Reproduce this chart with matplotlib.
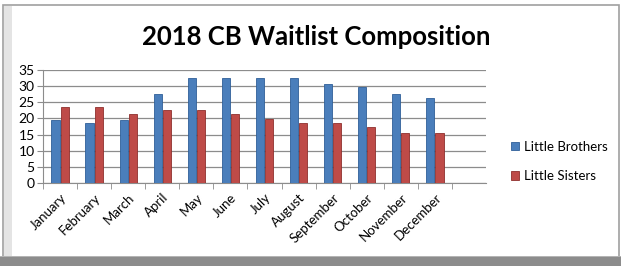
import numpy as np
import matplotlib
matplotlib.use("Agg")
import matplotlib.pyplot as plt
import matplotlib.patches as mpatches
import matplotlib.transforms as mtransforms

plt.rcParams['font.family'] = ['Lato', 'DejaVu Sans']

months = ["January", "February", "March", "April", "May", "June", "July",
          "August", "September", "October", "November", "December"]
brothers = [19.5, 18.6, 19.5, 27.6, 32.5, 32.5, 32.5, 32.5, 30.6, 29.8, 27.7, 26.4]
sisters = [23.6, 23.6, 21.5, 22.5, 22.5, 21.5, 19.7, 18.6, 18.6, 17.5, 15.4, 15.4]

blue = "#4a7ebb"
red = "#be4b48"

fig = plt.figure(figsize=(6.21, 2.66), dpi=100)

# frame of the chart box: grey shadow left and bottom, thin border
frame = [
    mpatches.Rectangle((3/621, 0), 616/621, 261/266, fc="white", ec="#a0a0a0", lw=1.2),
    mpatches.Rectangle((4/621, 10/266), 8/621, 250/266, fc="#e4e4e4", ec="none"),
    mpatches.Rectangle((0, 0), 1, 9/266, fc="#8c8c8c", ec="none"),
    mpatches.Rectangle((0, 9/266), 1, 1.5/266, fc="#b4b4b4", ec="none"),
]
for p in frame:
    p.set_transform(fig.transFigure)
    p.set_zorder(-10)
    fig.patches.append(p)

ax = fig.add_axes([43/621, 1 - 183/266, 443/621, 113/266])
ax.set_zorder(1)
ax.patch.set_alpha(0)

x = np.arange(len(months))
w = 0.24
ax.bar(x - 0.135, brothers, w, color=blue, edgecolor="#2f5f99", lw=0.6, label="Little Brothers", zorder=3)
ax.bar(x + 0.135, sisters, w, color=red, edgecolor="#8f2f2d", lw=0.6, label="Little Sisters", zorder=3)

ax.set_xlim(-0.5, len(months) + 0.5)
ax.set_ylim(0, 35)
ax.set_yticks(range(0, 36, 5))
ax.yaxis.grid(True, color="#8c8c8c", lw=0.9)
ax.set_axisbelow(True)
ax.set_xticks(np.arange(-0.5, len(months) + 0.5, 1), minor=True)
ax.set_xticks(x)
ax.set_xticklabels(months, rotation=45, ha="right", rotation_mode="anchor", fontsize=9.5)
shift = mtransforms.ScaledTranslation(6/100, -3/100, fig.dpi_scale_trans)
for lab in ax.get_xticklabels():
    lab.set_transform(lab.get_transform() + shift)
ax.tick_params(axis="x", which="major", length=0, pad=6)
ax.tick_params(axis="x", which="minor", length=4, color="#8c8c8c")
ax.tick_params(axis="y", length=4, color="#8c8c8c", labelsize=10, pad=2)
for s in ["top", "right"]:
    ax.spines[s].set_visible(False)
ax.spines["left"].set_color("#8c8c8c")
ax.spines["bottom"].set_color("#8c8c8c")

fig.text(316/621, 1 - 37/266, "2018 CB Waitlist Composition", ha="center", va="center",
         fontsize=18.5, fontweight="bold")

ax.legend(loc="center left", bbox_to_anchor=(1.03, 0.19), frameon=False, fontsize=9.5,
          handlelength=0.6, handleheight=0.6, handletextpad=0.4, labelspacing=1.3)

fig.savefig("out.png", dpi=100)
